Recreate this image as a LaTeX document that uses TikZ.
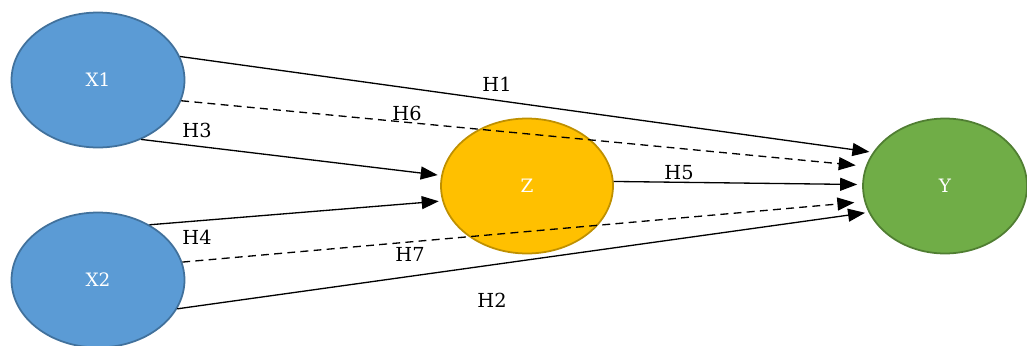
\documentclass[tikz,border=0pt]{standalone}
\usepackage{fontspec}
\setmainfont{DejaVu Serif}
\definecolor{xblue}{HTML}{5B9BD5}
\definecolor{xblueline}{HTML}{41719C}
\definecolor{zgold}{HTML}{FFC000}
\definecolor{zgoldline}{HTML}{BF9000}
\definecolor{ygreen}{HTML}{70AD47}
\definecolor{ygreenline}{HTML}{507E32}
\usetikzlibrary{arrows.meta, shapes.geometric}

\begin{document}
\begin{tikzpicture}[
  x=0.02cm, y=-0.02cm,
  var/.style={ellipse, draw, line width=1pt, minimum height=2.7cm,
              font=\fontsize{10.5}{12}\selectfont, text=white, inner sep=0pt},
  path/.style={draw, line width=0.75pt,
               -{Triangle[length=0.34cm, width=0.26cm]}},
  weak/.style={path, dash pattern=on 4.5pt off 3pt},
  hyp/.style={font=\fontsize{11}{13}\selectfont},
]
\useasboundingbox (0,0) rectangle (1027,345);

\node[var, fill=xblue, draw=xblueline, minimum width=3.46cm] (x1) at (98,80) {X1};
\node[var, fill=xblue, draw=xblueline, minimum width=3.46cm] (x2) at (98,280) {X2};
\node[var, fill=zgold, draw=zgoldline, minimum width=3.44cm] (z) at (527,186) {Z};
\node[var, fill=ygreen, draw=ygreenline, minimum width=3.28cm] (y) at (945,186) {Y};

% direct paths
\draw[path, shorten >=2pt] (x1.16) -- (y.155);
\draw[path, shorten >=2pt] (x2.340) -- (y.199);
\draw[path, shorten >=2pt] (x1.306) -- (z.173);
\draw[path, shorten >=2pt] (x2.47) -- (z.190);
\draw[path, shorten >=0.1cm] (z.3) -- (y.179);

% mediated paths
\draw[weak, shorten >=0.2cm] (x1.346) -- (y.166);
\draw[weak, shorten >=0.2cm] (x2.12) -- (y.191);

\node[hyp] (h1) at (497,84) {H1};
\node[hyp] (h2) at (492,300) {H2};
\node[hyp] (h3) at (197,130) {H3};
\node[hyp] (h4) at (197,237) {H4};
\node[hyp] (h5) at (679,173) {H5};
\node[hyp] (h6) at (407,113) {H6};
\node[hyp] (h7) at (410,254) {H7};
\end{tikzpicture}
\end{document}
